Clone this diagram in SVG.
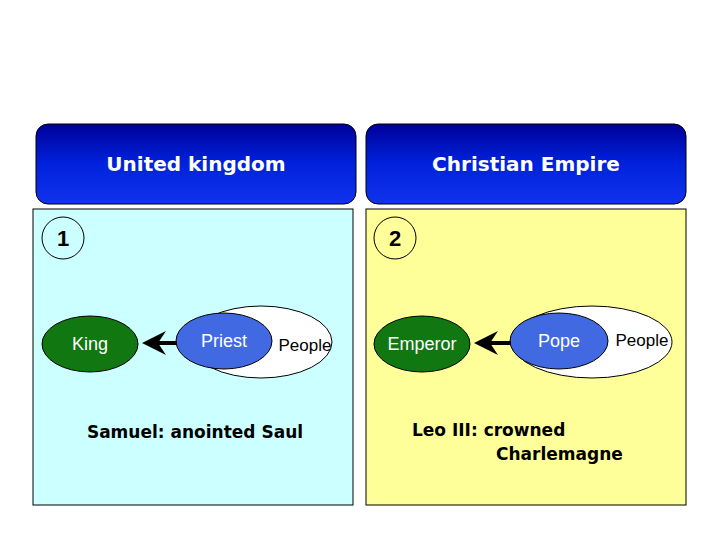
<svg xmlns="http://www.w3.org/2000/svg" width="720" height="540" viewBox="0 0 720 540">
<defs>
<linearGradient id="hg" x1="0" y1="0" x2="0" y2="1"><stop offset="0" stop-color="#000099"/><stop offset="0.5" stop-color="#0022dd"/><stop offset="1" stop-color="#1133ee"/></linearGradient>
<marker id="ah" markerWidth="6" markerHeight="6" refX="5" refY="3" orient="auto" markerUnits="strokeWidth"><path d="M0,0 L6,3 L0,6 L2,3 Z" fill="#000"/></marker>
</defs>
<style>
.hdr{fill:url(#hg);stroke:#000;stroke-width:1}
.ht{font-family:Verdana,"DejaVu Sans",sans-serif;font-weight:bold;font-size:20px;fill:#fff;text-anchor:middle}
.num{fill:none;stroke:#000;stroke-width:1}
.nt{font-family:"Liberation Sans",Arial,sans-serif;font-weight:bold;font-size:22px;fill:#000;text-anchor:middle}
.green{fill:#117711;stroke:#000;stroke-width:1}
.blue{fill:#4169e1;stroke:#000;stroke-width:1}
.white{fill:#fff;stroke:#000;stroke-width:1}
.wt{font-family:"Liberation Sans",Arial,sans-serif;font-size:18px;fill:#fff;text-anchor:middle}
.bt{font-family:"Liberation Sans",Arial,sans-serif;font-size:17px;fill:#000;text-anchor:middle}
.cap{font-family:Verdana,"DejaVu Sans",sans-serif;font-weight:bold;font-size:17px;fill:#000}
.arr{stroke:#000;stroke-width:4;marker-end:url(#ah)}
</style>
<g id="panel1">
<rect x="33" y="209" width="320" height="296" fill="#ccffff" stroke="#000"/>
<rect class="hdr" x="36" y="124" width="320" height="80" rx="12"/>
<text class="ht" x="196" y="171">United kingdom</text>
<circle class="num" cx="63" cy="238" r="21"/>
<text class="nt" x="63" y="246">1</text>
<text class="cap" x="195" y="438" text-anchor="middle">Samuel: anointed Saul</text>
</g>
<g id="panel2">
<rect x="366" y="209" width="320" height="296" fill="#ffff99" stroke="#000"/>
<rect class="hdr" x="366" y="124" width="320" height="80" rx="12"/>
<text class="ht" x="526" y="171">Christian Empire</text>
<circle class="num" cx="395" cy="238" r="21"/>
<text class="nt" x="395" y="246">2</text>
<text class="cap" x="412" y="436">Leo III: crowned</text>
<text class="cap" x="496" y="460">Charlemagne</text>
</g>
<g id="king"><ellipse class="green" cx="90" cy="344" rx="48" ry="28"/><text class="wt" x="90" y="350">King</text></g>
<g id="people1"><ellipse class="white" cx="261" cy="342" rx="71" ry="36"/><text class="bt" x="305" y="351">People</text></g>
<g id="priest"><ellipse class="blue" cx="224" cy="341" rx="48" ry="28"/><text class="wt" x="224" y="347">Priest</text></g>
<g id="emperor"><ellipse class="green" cx="422" cy="344" rx="48" ry="28"/><text class="wt" x="422" y="350">Emperor</text></g>
<g id="people2"><ellipse class="white" cx="592" cy="342" rx="80" ry="36"/><text class="bt" x="642" y="346">People</text></g>
<g id="pope"><ellipse class="blue" cx="559" cy="341" rx="49" ry="28"/><text class="wt" x="559" y="347">Pope</text></g>
<g id="connectors">
<line class="arr" x1="177" y1="343" x2="146" y2="343"/>
<line class="arr" x1="511" y1="343" x2="478" y2="343"/>
</g>
</svg>
